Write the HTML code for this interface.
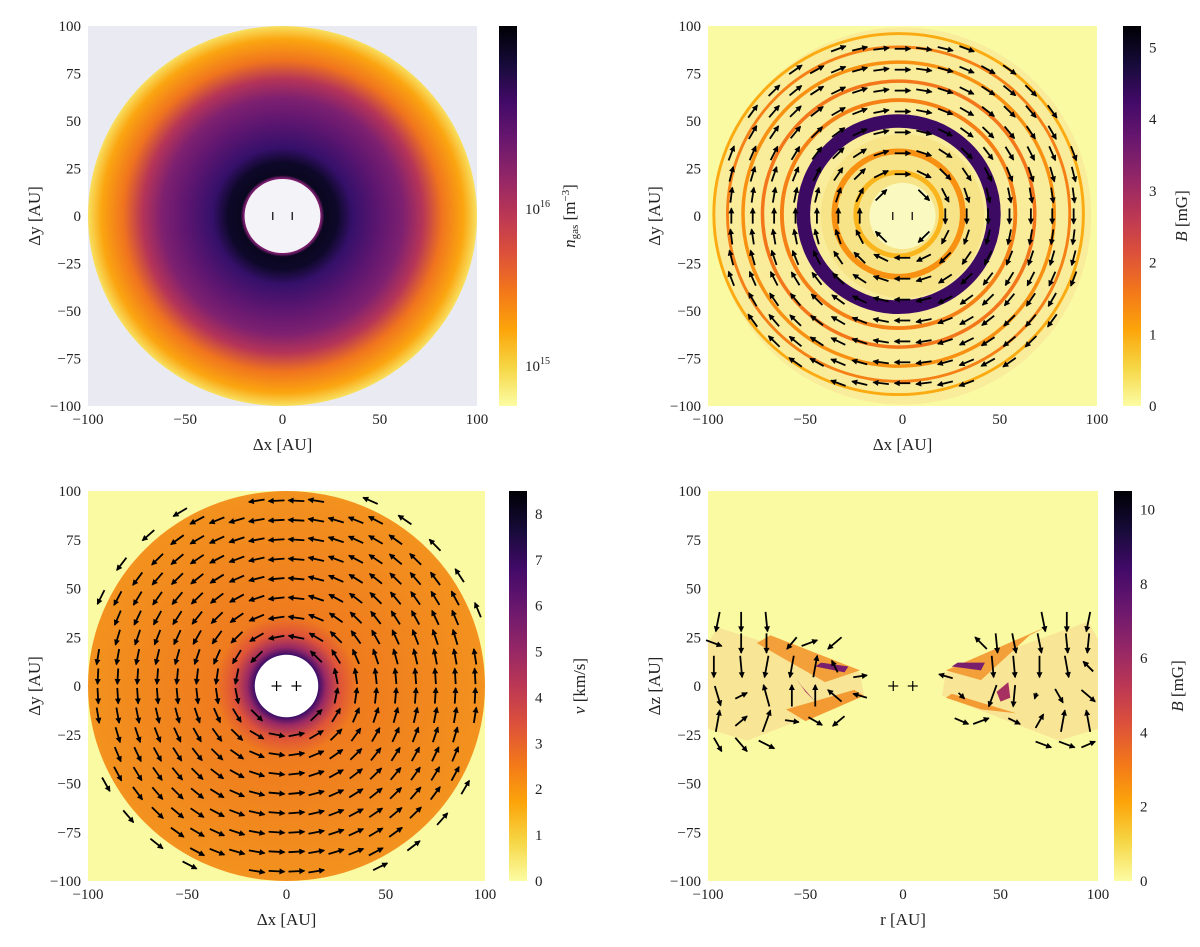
<!DOCTYPE html>
<html><head><meta charset="utf-8"><style>
html,body{margin:0;padding:0;background:#fff}
svg{display:block}
text{font-family:"Liberation Serif","DejaVu Serif",serif;fill:#222}
</style></head><body>
<svg id="fig" width="1200" height="947" viewBox="0 0 1200 947" xmlns="http://www.w3.org/2000/svg">
<defs>
<linearGradient id="cmap" x1="0" y1="1" x2="0" y2="0">
<stop offset="0" stop-color="#fcfca4"/><stop offset="0.1" stop-color="#f6d746"/><stop offset="0.2" stop-color="#fca50a"/><stop offset="0.3" stop-color="#f37819"/><stop offset="0.4" stop-color="#dd513a"/><stop offset="0.5" stop-color="#bc3754"/><stop offset="0.6" stop-color="#932667"/><stop offset="0.7" stop-color="#6a176e"/><stop offset="0.8" stop-color="#420a68"/><stop offset="0.9" stop-color="#160b39"/><stop offset="1" stop-color="#000004"/>
</linearGradient>
<radialGradient id="dens" cx="0.5" cy="0.5" r="0.5">
<stop offset="0.2" stop-color="#7a1d6d"/><stop offset="0.215" stop-color="#0a0720"/><stop offset="0.28" stop-color="#0d0828"/><stop offset="0.36" stop-color="#35106a"/><stop offset="0.5" stop-color="#5e1670"/><stop offset="0.62" stop-color="#7e2070"/><stop offset="0.72" stop-color="#b53458"/><stop offset="0.82" stop-color="#f0741e"/><stop offset="0.93" stop-color="#fba510"/><stop offset="1" stop-color="#f8e060"/>
</radialGradient>
<radialGradient id="vel" cx="0.5" cy="0.5" r="0.5">
<stop offset="0.16" stop-color="#3a0c68"/><stop offset="0.2" stop-color="#9a2964"/><stop offset="0.27" stop-color="#df5438"/><stop offset="0.36" stop-color="#ef7b1e"/><stop offset="1" stop-color="#f3921e"/>
</radialGradient>
</defs>
<g id="layer"></g>
</svg>
<script>
// ---- data ----
const axisTicks = [-100, -50, 0, 50, 100];
const yTicks = [100, 75, 50, 25, 0, -25, -50, -75, -100];
const cbTicksB1 = [0, 1, 2, 3, 4, 5];
const cbTicksV = [0, 1, 2, 3, 4, 5, 6, 7, 8];
const cbTicksB2 = [0, 2, 4, 6, 8, 10];
const cbMax = [5.3, 8.5, 10.5];
// Panel 2 field rings: radius [AU], B [mG], width [AU]
const ringRadii = [22, 33, 49, 60, 70, 80, 88, 95];
const ringValues = [0.9, 1.3, 4.3, 1.5, 1.6, 1.3, 1.5, 1.0];
const ringWidths = [2.5, 3, 7, 2, 1.8, 1.8, 1.5, 1.5];
// Panel 4 arrows: x, z, dx, dz (AU)
const p4x = [-95,-83,-70,-97,-83,-70,-57,-48,-35,-97,-83,-70,-57,-45,-35,-22,-95,-83,-70,-57,-45,-35,-22,-95,-83,-70,-57,-45,-33,-95,-83,-70,
 72,84,95,40,48,57,70,84,95,95,46,57,70,84,95,22,30,46,57,68,80,95,30,40,57,70,82,95,72,84,95];
const p4z = [33,33,33,22,22,22,22,22,22,10,10,10,10,10,10,5,-5,-5,-5,-5,-5,-5,-5,-18,-18,-18,-18,-18,-18,-30,-30,-30,
 33,33,33,22,22,22,22,22,22,10,10,10,10,10,10,5,-5,-5,-5,-5,-5,-5,-18,-18,-18,-18,-18,-18,-30,-30,-30];
const p4dx = [-2,0,1,8,0,0,-5,8,-7,0,1,-2,-2,2,-3,7,3,6,-3,0,0,-7,-7,2,6,4,7,7,-6,4,6,8,
 2,0,-2,-6,1,2,2,1,-1,-5,1,1,0,2,-5,-7,3,-4,-1,-1,4,7,7,8,6,4,2,-2,8,8,7];
const p4dz = [-10,-10,-10,-3,-10,-10,-6,3,-6,-11,-11,-11,-11,11,6,1,-10,3,11,11,11,6,2,11,5,11,-1,-4,-5,-7,-7,-4,
 -10,-10,-10,6,-10,-10,-10,-10,-10,5,-11,-11,-11,-11,5,2,-3,-11,-11,-3,-7,-6,-3,3,-3,7,11,11,-3,-3,3];

const L = document.getElementById('layer');
const NS = 'http://www.w3.org/2000/svg';
function mk(tag, attrs, parent){const e=document.createElementNS(NS,tag);for(const k in attrs)e.setAttribute(k,attrs[k]);(parent||L).appendChild(e);return e;}
function inferno(t){const c=['#fcfca4','#f6d746','#fca50a','#f37819','#dd513a','#bc3754','#932667','#6a176e','#420a68','#160b39','#000004'];t=Math.max(0,Math.min(1,t));const i=Math.min(9,Math.floor(t*10));const f=t*10-i;const a=c[i],b=c[i+1];const p=s=>[1,3,5].map(j=>parseInt(s.substr(j,2),16));const A=p(a),B=p(b);return 'rgb('+A.map((v,k)=>Math.round(v+(B[k]-v)*f)).join(',')+')';}

const P = [
 {x0:88,x1:477,y0:26,y1:406,cb:499,cbw:18,ytl:40,cbl:575,xl:'Δx [AU]',yl:'Δy [AU]'},
 {x0:708,x1:1097,y0:26,y1:406,cb:1123,cbw:18,ytl:660,cbl:1187,xl:'Δx [AU]',yl:'Δy [AU]'},
 {x0:88,x1:485,y0:491,y1:881,cb:509,cbw:18,ytl:40,cbl:585,xl:'Δx [AU]',yl:'Δy [AU]'},
 {x0:708,x1:1098,y0:491,y1:881,cb:1114,cbw:18,ytl:660,cbl:1183,xl:'r [AU]',yl:'Δz [AU]'}
];
P.forEach(p=>{p.sx=v=>p.x0+(v+100)/200*(p.x1-p.x0);p.sy=v=>p.y1-(v+100)/200*(p.y1-p.y0);p.k=(p.x1-p.x0)/200;p.ky=(p.y1-p.y0)/200;});

function arrow(p,x,y,dx,dy,g){
 const X=p.sx(x),Y=p.sy(y),X2=X+dx*p.k,Y2=Y-dy*p.ky;
 const a=mk('line',{x1:X,y1:Y,x2:X2,y2:Y2,stroke:'#000','stroke-width':1.8},g);
 
 
 const ang=Math.atan2(Y2-Y,X2-X),h=5,w=3;
 const pts=[[X2+Math.cos(ang)*1,Y2+Math.sin(ang)*1],[X2-h*Math.cos(ang)+w*Math.sin(ang),Y2-h*Math.sin(ang)-w*Math.cos(ang)],[X2-h*Math.cos(ang)-w*Math.sin(ang),Y2-h*Math.sin(ang)+w*Math.cos(ang)]];
 mk('polygon',{points:pts.map(q=>q.join(',')).join(' '),fill:'#000'},g);
}

function axes(p,idx,cbTicks,cbm,cbTitle){
 const g=mk('g',{});
 
 
 axisTicks.forEach(t=>{const e=mk('text',{x:p.sx(t),y:p.y1+18,'text-anchor':'middle','font-size':15},g);e.textContent=t<0?'−'+(-t):t;});
 yTicks.forEach(t=>{const e=mk('text',{x:p.x0-7,y:p.sy(t)+5,'text-anchor':'end','font-size':15},g);e.textContent=t<0?'−'+(-t):t;});
 const xt=mk('text',{x:(p.x0+p.x1)/2,y:p.y1+44,'text-anchor':'middle','font-size':17},g);xt.textContent=p.xl;
 const yc=(p.y0+p.y1)/2;
 const yt=mk('text',{x:p.ytl,y:yc,'text-anchor':'middle','font-size':17,transform:`rotate(-90 ${p.ytl} ${yc})`},g);yt.textContent=p.yl;
 const cb=mk('rect',{x:p.cb,y:p.y0,width:p.cbw,height:p.y1-p.y0,fill:'url(#cmap)'},g);
 if(cbTicks){cbTicks.forEach(t=>{const y=p.y1-t/cbm*(p.y1-p.y0);const e=mk('text',{x:p.cb+p.cbw+8,y:y+5,'font-size':15},g);e.textContent=t;});}
 const ct=mk('text',{x:p.cbl,y:yc,'text-anchor':'middle','font-size':17,transform:`rotate(-90 ${p.cbl} ${yc})`},g);ct.innerHTML=cbTitle;
 return g;
}
function marks(p,g,plus){
 [-5,5].forEach(x=>{const X=p.sx(x),Y=p.sy(0);
  if(plus){mk('line',{x1:X-5,y1:Y,x2:X+5,y2:Y,stroke:'#000','stroke-width':1.2},g);}
  const s=plus?5:4;mk('line',{x1:X,y1:Y-s,x2:X,y2:Y+s,stroke:'#000','stroke-width':1.2},g);});
}

// Panel 1
{const p=P[0];const g=mk('g',{});
 mk('rect',{x:p.x0,y:p.y0,width:p.x1-p.x0,height:p.y1-p.y0,fill:'#eaeaf2'},g);
 mk('ellipse',{cx:p.sx(0),cy:p.sy(0),rx:100*p.k,ry:100*p.ky,fill:'url(#dens)'},g);
 mk('ellipse',{cx:p.sx(0),cy:p.sy(0),rx:19.5*p.k,ry:19.5*p.ky,fill:'#f4f4f8'},g);
 marks(p,g,false);
 axes(p,0,null,1,'<tspan font-style="italic">n</tspan><tspan font-size="11" dy="3">gas</tspan><tspan dy="-3"> [m</tspan><tspan font-size="11" dy="-6">−3</tspan><tspan dy="6">]</tspan>');
 [['10',209,'16'],['10',366,'15']].forEach(([b,y,e])=>{const t=mk('text',{x:p.cb+p.cbw+8,y:y+5,'font-size':15});t.innerHTML=b+'<tspan font-size="10" dy="-7">'+e+'</tspan>';});
}
// Panel 2
{const p=P[1];const g=mk('g',{});
 mk('rect',{x:p.x0,y:p.y0,width:p.x1-p.x0,height:p.y1-p.y0,fill:'#fafaa2'},g);
 mk('circle',{cx:p.sx(0),cy:p.sy(0),r:97*p.k,fill:'#f9ec9a'},g);
 mk('circle',{cx:p.sx(0),cy:p.sy(0),r:42*p.k,fill:'#f8e488'},g);
 ringRadii.forEach((r,i)=>{const c=mk('ellipse',{cx:p.sx(-2),cy:p.sy(1),rx:r*p.k,ry:r*p.ky,fill:'none',stroke:inferno(ringValues[i]/cbMax[0]),'stroke-width':ringWidths[i]*p.k},g);});
 mk('circle',{cx:p.sx(0),cy:p.sy(0),r:17*p.k,fill:'#fafac0'},g);
 for(let x=-88;x<=88;x+=11)for(let y=-88;y<=88;y+=11){const r=Math.hypot(x,y);if(r<13||r>96)continue;const a=Math.atan2(y,x);arrow(p,x-4*Math.sin(a),y+4*Math.cos(a),8*Math.sin(a),-8*Math.cos(a),g);}
 marks(p,g,false);
 axes(p,1,cbTicksB1,cbMax[0],'<tspan font-style="italic">B</tspan> [mG]');
}
// Panel 3
{const p=P[2];const g=mk('g',{});
 mk('rect',{x:p.x0,y:p.y0,width:p.x1-p.x0,height:p.y1-p.y0,fill:'#fafaa2'},g);
 mk('ellipse',{cx:p.sx(0),cy:p.sy(0),rx:100*p.k,ry:100*p.ky,fill:'url(#vel)'},g);
 mk('ellipse',{cx:p.sx(0),cy:p.sy(0),rx:16*p.k,ry:16*p.ky,fill:'#fff'},g);
 for(let x=-95;x<=95;x+=10)for(let y=-95;y<=95;y+=10){const r=Math.hypot(x,y);if(r<18||r>97)continue;const a=Math.atan2(y,x);arrow(p,x+4*Math.sin(a),y-4*Math.cos(a),-8*Math.sin(a),8*Math.cos(a),g);}
 for(let d=0;d<360;d+=11){const a=d*Math.PI/180,x=104*Math.cos(a),y=104*Math.sin(a);if(Math.abs(x)>97||Math.abs(y)>97)continue;arrow(p,x+4*Math.sin(a),y-4*Math.cos(a),-8*Math.sin(a),8*Math.cos(a),g);}
 marks(p,g,true);
 axes(p,2,cbTicksV,cbMax[1],'<tspan font-style="italic">v</tspan> [km/s]');
}
// Panel 4
{const p=P[3];const g=mk('g',{});
 mk('rect',{x:p.x0,y:p.y0,width:p.x1-p.x0,height:p.y1-p.y0,fill:'#fafaa2'},g);
 const poly=(pts,fill)=>mk('polygon',{points:pts.map(q=>p.sx(q[0])+','+p.sy(q[1])).join(' '),fill},g);
 poly([[-100,22],[-95,30],[-22,7],[-20,-5],[-80,-28],[-100,-22]],'#f8e596');
 poly([[-75,22],[-68,26],[-22,8],[-40,2]],'#f4a03a');
 poly([[-60,-12],[-50,-18],[-20,-5],[-25,-2]],'#f39a33');
 poly([[-45,10],[-30,7],[-28,10],[-42,12]],'#7a1f6e');
 poly([[-55,4],[-50,-3],[-45,-8],[-52,0]],'#a63060');
 poly([[100,24],[95,33],[22,7],[20,-5],[80,-28],[100,-22]],'#f8e596');
 poly([[65,26],[75,31],[22,8],[40,3]],'#f4a03a');
 poly([[40,-12],[58,-14],[25,-4],[22,-6]],'#f39a33');
 poly([[25,10],[40,8],[42,12],[28,12]],'#7a1f6e');
 poly([[48,-3],[54,2],[55,-6],[50,-8]],'#a63060');
 p4x.forEach((x,i)=>arrow(p,x-p4dx[i]/2,p4z[i]-p4dz[i]/2,p4dx[i],p4dz[i],g));
 marks(p,g,true);
 axes(p,3,cbTicksB2,cbMax[2],'<tspan font-style="italic">B</tspan> [mG]');
}
</script>
</body></html>
